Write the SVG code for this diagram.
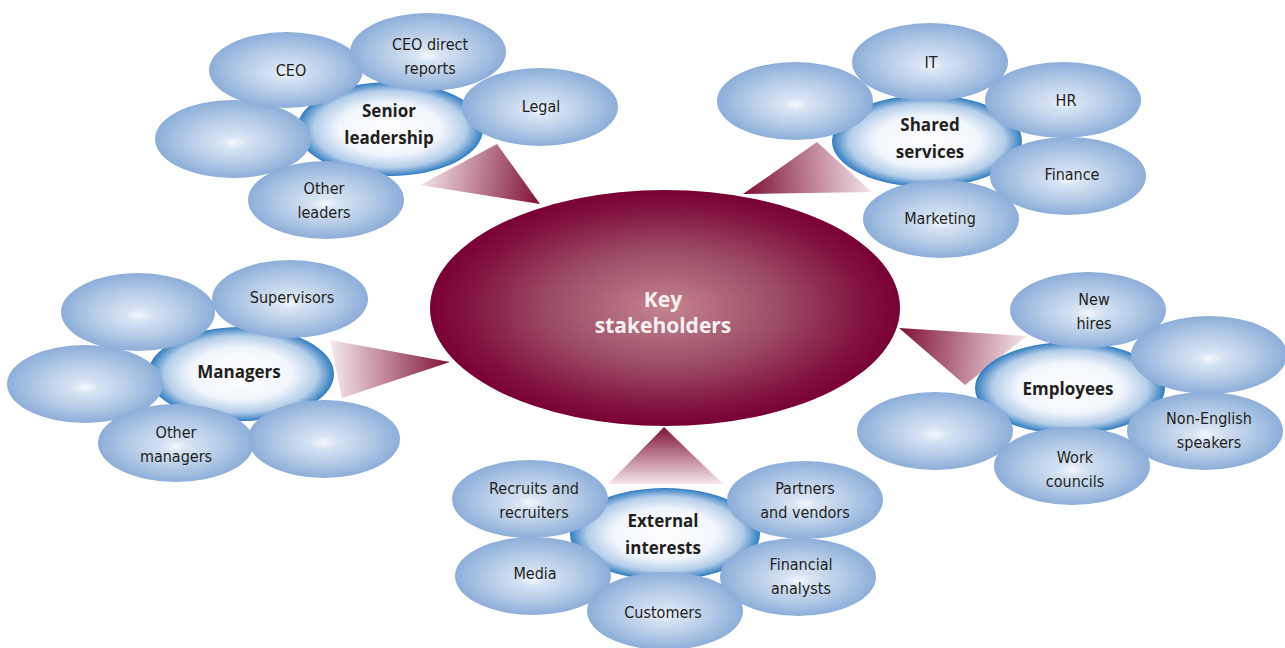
<svg xmlns="http://www.w3.org/2000/svg" width="1285" height="648" viewBox="0 0 1285 648">
  <defs>
    <radialGradient id="gOuter" cx="0.5" cy="0.5" r="0.5" fx="0.5" fy="0.55">
      <stop offset="0" stop-color="#f6f9fd"/>
      <stop offset="0.15" stop-color="#dae5f4"/>
      <stop offset="0.6" stop-color="#b3cae7"/>
      <stop offset="1" stop-color="#8caed8"/>
    </radialGradient>
    <radialGradient id="gHub" cx="0.5" cy="0.5" r="0.5">
      <stop offset="0" stop-color="#ffffff"/>
      <stop offset="0.55" stop-color="#f2f6fc"/>
      <stop offset="0.82" stop-color="#b3cde9"/>
      <stop offset="1" stop-color="#2f7cc0"/>
    </radialGradient>
    <radialGradient id="gCore" cx="0.5" cy="0.5" r="0.5">
      <stop offset="0" stop-color="#c4848f"/>
      <stop offset="0.5" stop-color="#9c4a66"/>
      <stop offset="0.85" stop-color="#80123f"/>
      <stop offset="1" stop-color="#7a0033"/>
    </radialGradient>
    <linearGradient id="tSenior" gradientUnits="userSpaceOnUse" x1="420" y1="180" x2="540" y2="200">
      <stop offset="0" stop-color="#f6e6ea"/>
      <stop offset="1" stop-color="#7e1138"/>
    </linearGradient>
    <linearGradient id="tShared" gradientUnits="userSpaceOnUse" x1="872" y1="180" x2="745" y2="190">
      <stop offset="0" stop-color="#f6e6ea"/>
      <stop offset="1" stop-color="#7e1138"/>
    </linearGradient>
    <linearGradient id="tManagers" gradientUnits="userSpaceOnUse" x1="332" y1="365" x2="450" y2="362">
      <stop offset="0" stop-color="#f6e6ea"/>
      <stop offset="1" stop-color="#7e1138"/>
    </linearGradient>
    <linearGradient id="tExternal" gradientUnits="userSpaceOnUse" x1="664" y1="484" x2="664" y2="427">
      <stop offset="0" stop-color="#f6e6ea"/>
      <stop offset="1" stop-color="#7e1138"/>
    </linearGradient>
    <linearGradient id="tEmployees" gradientUnits="userSpaceOnUse" x1="1027" y1="345" x2="900" y2="330">
      <stop offset="0" stop-color="#f6e6ea"/>
      <stop offset="1" stop-color="#7e1138"/>
    </linearGradient>
  </defs>
  <style>
    .outer { fill: url(#gOuter); }
    .hub { fill: url(#gHub); }
    .lbl { font-family: "Liberation Sans Narrow", "DejaVu Sans Condensed", "Liberation Sans", sans-serif; font-size: 16px; fill: #231f20; text-anchor: middle; }
    .hubl { font-family: "Open Sans", "Noto Sans", "DejaVu Sans", sans-serif; font-weight: 700; font-size: 17px; fill: #231f20; text-anchor: middle; }
    .core { font-family: "Open Sans", "Noto Sans", "DejaVu Sans", sans-serif; font-weight: 700; font-size: 21px; fill: #fbf2f4; text-anchor: middle; }
  </style>
  <rect width="1285" height="648" fill="#ffffff"/>

  <!-- wedges pointing at the central ellipse -->
  <g id="connectors">
    <polygon points="420,185 497,144 540,204" fill="url(#tSenior)"/>
    <polygon points="743,194 817,142 872,192" fill="url(#tShared)"/>
    <polygon points="330,340 450,362 342,398" fill="url(#tManagers)"/>
    <polygon points="664,427 608,484 723,484" fill="url(#tExternal)"/>
    <polygon points="899,328 1027,336 965,385" fill="url(#tEmployees)"/>
  </g>

  <g id="key-stakeholders">
    <ellipse cx="665" cy="308" rx="235" ry="118" fill="url(#gCore)"/>
    <text class="core" x="663" y="307">Key</text>
    <text class="core" x="663" y="333">stakeholders</text>
  </g>

  <g id="senior-leadership">
    <ellipse class="hub" cx="390" cy="129" rx="93" ry="47"/>
    <ellipse class="outer" cx="233" cy="139" rx="78" ry="39"/>
    <ellipse class="outer" cx="286" cy="70" rx="77" ry="38"/>
    <ellipse class="outer" cx="428" cy="52" rx="78" ry="39"/>
    <ellipse class="outer" cx="540" cy="107" rx="78" ry="39"/>
    <ellipse class="outer" cx="326" cy="200" rx="78" ry="39"/>
    <text class="hubl" x="389" y="117">Senior</text>
    <text class="hubl" x="389" y="144">leadership</text>
    <text class="lbl" x="291" y="76">CEO</text>
    <text class="lbl" x="430" y="50">CEO direct</text>
    <text class="lbl" x="430" y="74">reports</text>
    <text class="lbl" x="541" y="112">Legal</text>
    <text class="lbl" x="324" y="194">Other</text>
    <text class="lbl" x="324" y="218">leaders</text>
  </g>

  <g id="shared-services">
    <ellipse class="hub" cx="927" cy="141" rx="95" ry="46"/>
    <ellipse class="outer" cx="795" cy="101" rx="78" ry="39"/>
    <ellipse class="outer" cx="930" cy="62" rx="78" ry="39"/>
    <ellipse class="outer" cx="1063" cy="100" rx="78" ry="38"/>
    <ellipse class="outer" cx="1068" cy="176" rx="78" ry="39"/>
    <ellipse class="outer" cx="941" cy="219" rx="78" ry="39"/>
    <text class="hubl" x="930" y="131">Shared</text>
    <text class="hubl" x="930" y="158">services</text>
    <text class="lbl" x="931" y="68">IT</text>
    <text class="lbl" x="1066" y="106">HR</text>
    <text class="lbl" x="1072" y="180">Finance</text>
    <text class="lbl" x="940" y="224">Marketing</text>
  </g>

  <g id="managers">
    <ellipse class="hub" cx="241" cy="374" rx="93" ry="47"/>
    <ellipse class="outer" cx="138" cy="312" rx="77" ry="39"/>
    <ellipse class="outer" cx="290" cy="299" rx="78" ry="39"/>
    <ellipse class="outer" cx="85" cy="384" rx="78" ry="39"/>
    <ellipse class="outer" cx="324" cy="439" rx="76" ry="39"/>
    <ellipse class="outer" cx="176" cy="443" rx="78" ry="39"/>
    <text class="hubl" x="239" y="378">Managers</text>
    <text class="lbl" x="292" y="303">Supervisors</text>
    <text class="lbl" x="176" y="438">Other</text>
    <text class="lbl" x="176" y="462">managers</text>
  </g>

  <g id="external-interests">
    <ellipse class="hub" cx="665" cy="534" rx="95" ry="46"/>
    <ellipse class="outer" cx="530" cy="499" rx="78" ry="39"/>
    <ellipse class="outer" cx="805" cy="500" rx="78" ry="39"/>
    <ellipse class="outer" cx="533" cy="576" rx="78" ry="39"/>
    <ellipse class="outer" cx="798" cy="577" rx="78" ry="39"/>
    <ellipse class="outer" cx="665" cy="611" rx="78" ry="39"/>
    <text class="hubl" x="663" y="527">External</text>
    <text class="hubl" x="663" y="554">interests</text>
    <text class="lbl" x="534" y="494">Recruits and</text>
    <text class="lbl" x="534" y="518">recruiters</text>
    <text class="lbl" x="805" y="494">Partners</text>
    <text class="lbl" x="805" y="518">and vendors</text>
    <text class="lbl" x="535" y="579">Media</text>
    <text class="lbl" x="801" y="570">Financial</text>
    <text class="lbl" x="801" y="594">analysts</text>
    <text class="lbl" x="663" y="618">Customers</text>
  </g>

  <g id="employees">
    <ellipse class="hub" cx="1070" cy="388" rx="95" ry="46"/>
    <ellipse class="outer" cx="1088" cy="310" rx="78" ry="38"/>
    <ellipse class="outer" cx="1209" cy="355" rx="78" ry="39"/>
    <ellipse class="outer" cx="935" cy="431" rx="78" ry="39"/>
    <ellipse class="outer" cx="1205" cy="431" rx="78" ry="39"/>
    <ellipse class="outer" cx="1072" cy="466" rx="78" ry="39"/>
    <text class="hubl" x="1068" y="395">Employees</text>
    <text class="lbl" x="1094" y="305">New</text>
    <text class="lbl" x="1094" y="329">hires</text>
    <text class="lbl" x="1209" y="424">Non-English</text>
    <text class="lbl" x="1209" y="448">speakers</text>
    <text class="lbl" x="1075" y="463">Work</text>
    <text class="lbl" x="1075" y="487">councils</text>
  </g>
</svg>
